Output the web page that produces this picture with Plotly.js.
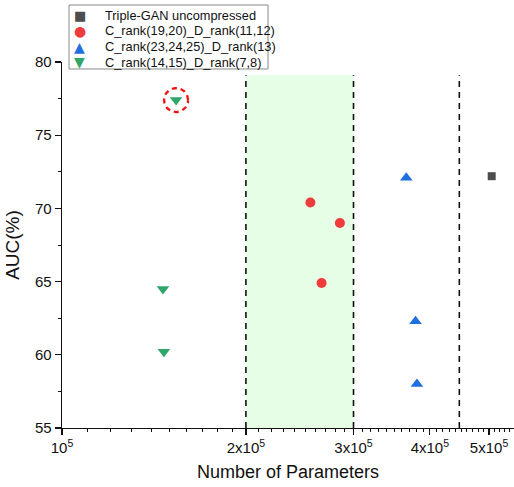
<!DOCTYPE html>
<html>
<head>
<meta charset="utf-8">
<script src="https://cdn.plot.ly/plotly-3.0.1.min.js"></script>
<style>
  html, body { margin: 0; padding: 0; background: #fff; }
  #chart { width: 514px; height: 487px; }
</style>
</head>
<body>
<div id="chart"></div>
<script>
// Series: number of parameters vs AUC(%)
const seriesNames = [
  'Triple-GAN uncompressed',
  'C_rank(19,20)_D_rank(11,12)',
  'C_rank(23,24,25)_D_rank(13)',
  'C_rank(14,15)_D_rank(7,8)'
];
const uncompressedParams = [5.05e5];
const uncompressedAUC = [72.2];
const rankA_Params = [2.55e5, 2.85e5, 2.66e5];
const rankA_AUC = [70.4, 69.0, 64.9];
const rankB_Params = [3.66e5, 3.79e5, 3.81e5];
const rankB_AUC = [72.1, 62.3, 58.0];
const rankC_Params = [1.537e5, 1.463e5, 1.468e5];
const rankC_AUC = [77.4, 64.5, 60.2];

// Highlighted configuration (circled)
const highlightParams = 1.537e5;
const highlightAUC = 77.4;

// Reference boundaries
const bandLow = 2e5;
const bandHigh = 3e5;
const upperBound = 4.47e5;
const boundTop = 79.1;

const xTickVals = [1e5, 2e5, 3e5, 4e5, 5e5];
const xTickText = ['10<sup>5</sup>', '2x10<sup>5</sup>', '3x10<sup>5</sup>', '4x10<sup>5</sup>', '5x10<sup>5</sup>'];
const yTickVals = [55, 60, 65, 70, 75, 80];

// minor ticks on the log axis at every 1e4
const minorX = [];
for (let v = 1.1e5; v < 5.6e5; v += 1e4) minorX.push(Math.round(v));

const colors = ['#4d4d4d', '#ef3b3b', '#1f6fe0', '#2fa66a'];
const legendGlyphs = ['\u25A0', '\u25CF', '\u25B2', '\u25BC'];

const xRange = [5, 5.7398];
const yRange = [55, 80];
const plotW = 452, plotH = 366;

// dashed ring around the highlighted point, ~12 px radius in screen space
const ringR = 12;
const ringX = [], ringY = [];
for (let i = 0; i <= 72; i++) {
  const t = (i / 72) * 2 * Math.PI;
  ringX.push(highlightParams * Math.pow(10, ringR * Math.cos(t) * (xRange[1] - xRange[0]) / plotW));
  ringY.push(highlightAUC + ringR * Math.sin(t) * (yRange[1] - yRange[0]) / plotH);
}

const traces = [
  { x: uncompressedParams, y: uncompressedAUC, name: seriesNames[0], mode: 'markers', type: 'scatter',
    marker: { symbol: 'square', size: 8, color: colors[0] } },
  { x: rankA_Params, y: rankA_AUC, name: seriesNames[1], mode: 'markers', type: 'scatter',
    marker: { symbol: 'circle', size: 10, color: colors[1] } },
  { x: rankB_Params, y: rankB_AUC, name: seriesNames[2], mode: 'markers', type: 'scatter',
    marker: { symbol: 'triangle-up', size: 11, color: colors[2] } },
  { x: rankC_Params, y: rankC_AUC, name: seriesNames[3], mode: 'markers', type: 'scatter',
    marker: { symbol: 'triangle-down', size: 11, color: colors[3] } },
  { x: ringX, y: ringY, mode: 'lines', type: 'scatter', hoverinfo: 'skip',
    line: { color: '#f01010', width: 2.3, dash: '5px,4px' } }
];

const dashLine = (xv) => ({
  type: 'line', xref: 'x', yref: 'y', x0: xv, x1: xv, y0: 55, y1: boundTop,
  line: { color: '#111', width: 1.6, dash: '6px,5px' }, layer: 'above'
});

// legend drawn as a framed box of annotations
const legBox = { x0: 0.0155, x1: 0.4558, y0: 0.9809, y1: 1.1557 };
const legRows = [1.1284, 1.0847, 1.0410, 0.9990];
const legendAnn = [];
seriesNames.forEach((name, i) => {
  legendAnn.push({
    xref: 'paper', yref: 'paper', x: 0.0398, y: legRows[i], xanchor: 'center', yanchor: 'middle',
    text: legendGlyphs[i], showarrow: false,
    font: { family: 'DejaVu Sans', size: i === 0 ? 13 : 14, color: colors[i] }
  });
  legendAnn.push({
    xref: 'paper', yref: 'paper', x: 0.0907, y: legRows[i], xanchor: 'left', yanchor: 'middle',
    text: name, showarrow: false,
    font: { size: 12.8, color: '#111' }
  });
});

const layout = {
  width: 514, height: 487,
  margin: { l: 62, r: 0, t: 62, b: 59 },
  paper_bgcolor: '#fff', plot_bgcolor: '#fff',
  font: { family: 'Liberation Sans, Arial, sans-serif', color: '#111' },
  showlegend: false,
  xaxis: {
    type: 'log', range: xRange, showgrid: false, zeroline: false,
    showline: true, linecolor: '#111', linewidth: 1.3,
    ticks: 'outside', ticklen: 6, tickwidth: 1.3, tickcolor: '#111',
    tickmode: 'array', tickvals: xTickVals, ticktext: xTickText,
    tickfont: { size: 15 },
    minor: { tickmode: 'array', tickvals: minorX, ticks: 'outside', ticklen: 3, tickwidth: 1, tickcolor: '#111' },
    title: { text: 'Number of Parameters', font: { size: 18 }, standoff: 10 }
  },
  yaxis: {
    range: yRange, showgrid: false, zeroline: false,
    showline: true, linecolor: '#111', linewidth: 1.3,
    ticks: 'outside', ticklen: 6, tickwidth: 1.3, tickcolor: '#111',
    tickmode: 'array', tickvals: yTickVals, tickfont: { size: 15 },
    minor: { dtick: 2.5, ticks: 'outside', ticklen: 3, tickwidth: 1, tickcolor: '#111' },
    title: { text: 'AUC(%)', font: { size: 19 }, standoff: 10 }
  },
  shapes: [
    { type: 'rect', xref: 'x', yref: 'y', x0: bandLow, x1: bandHigh, y0: 55, y1: boundTop,
      fillcolor: '#e6fde6', line: { width: 0 }, layer: 'below' },
    dashLine(bandLow), dashLine(bandHigh), dashLine(upperBound),
    { type: 'rect', xref: 'paper', yref: 'paper', x0: legBox.x0, x1: legBox.x1, y0: legBox.y0, y1: legBox.y1,
      fillcolor: '#fff', line: { color: '#888', width: 1 }, layer: 'above' }
  ],
  annotations: legendAnn
};

Plotly.newPlot('chart', traces, layout, { displayModeBar: false, staticPlot: true });
</script>
</body>
</html>
